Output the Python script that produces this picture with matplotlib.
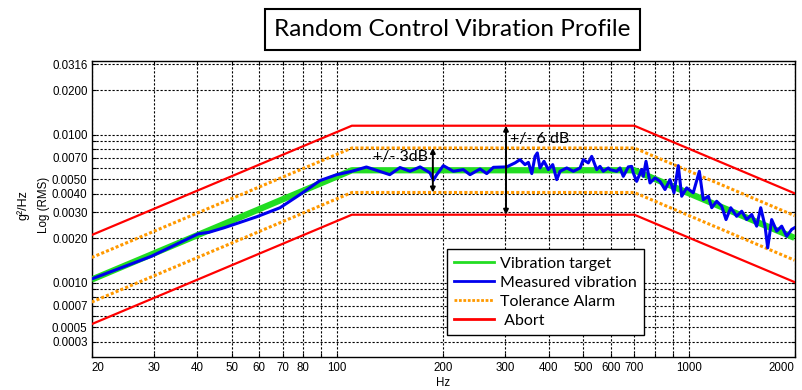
import matplotlib
matplotlib.use("Agg")
import matplotlib.pyplot as plt
from matplotlib.lines import Line2D
from matplotlib.patches import Rectangle

# ---------------- data ----------------
prof_freq = [20, 110, 700, 2000]
target = [0.00105, 0.00575, 0.00575, 0.00201]
alarm_hi = [0.00148, 0.00813, 0.00813, 0.00284]
alarm_lo = [0.00074, 0.00407, 0.00407, 0.00142]
abort_hi = [0.00210, 0.01150, 0.01150, 0.00402]
abort_lo = [0.000525, 0.00288, 0.00288, 0.00101]

meas_freq = [20, 29.6, 40.2, 43.1, 47.6, 59, 68.7, 78.3, 89.3, 99.6, 110, 121, 141,
             150.8, 161, 172, 183.6, 187.6, 191.8, 200.3, 213.9, 228.3, 238.6, 254.8,
             266.2, 278, 303.4, 320.4, 331, 342, 349.7, 357.6, 365.3, 370.8, 377.4,
             387.4, 398.6, 410.2, 421.1, 430.4, 449.6, 469.6, 490.6, 501.2, 517.8,
             529.6, 547.2, 559.2, 571.4, 590.4, 597, 623.8, 637.4, 651.4, 673, 688.2,
             695.4, 711, 734.8, 742.6, 755.8, 776, 801.8, 828.4, 856, 884.6, 908, 934,
             955, 986.8, 1030, 1072, 1100, 1137, 1163, 1201, 1241, 1277, 1317, 1369,
             1415, 1462, 1511, 1561, 1603, 1649, 1678, 1722, 1780, 1839, 1900, 1963, 2000]
meas_psd = [0.00106, 0.00151, 0.00214, 0.00219, 0.00235, 0.00279, 0.00321, 0.00394,
            0.00490, 0.00537, 0.00566, 0.00605, 0.00537,
            0.00600, 0.00566, 0.00606, 0.00552, 0.00492, 0.00537, 0.00618, 0.00566,
            0.00581, 0.00537, 0.00587, 0.00546, 0.00602, 0.00606, 0.00645, 0.00678,
            0.00628, 0.00650, 0.00546, 0.00714, 0.00753, 0.00596, 0.00661, 0.00581,
            0.00628, 0.00497, 0.00566, 0.00596, 0.00566, 0.00596, 0.00678, 0.00645,
            0.00714, 0.00581, 0.00611, 0.00566, 0.00596, 0.00581, 0.00566, 0.00596,
            0.00523, 0.00606, 0.00611, 0.00552, 0.00484, 0.00581, 0.00523, 0.00661,
            0.00472, 0.00511, 0.00484, 0.00426, 0.00497, 0.00405, 0.00618, 0.00384,
            0.00437, 0.00405, 0.00566, 0.00364, 0.00384, 0.00321, 0.00355, 0.00329,
            0.00267, 0.00321, 0.00281, 0.00304, 0.00267, 0.00289, 0.00241, 0.00321,
            0.00241, 0.00172, 0.00267, 0.00223, 0.00241, 0.00206, 0.00229, 0.00235]

x_major = [20, 30, 40, 50, 60, 70, 80, 100, 200, 300, 400, 500, 600, 700, 1000, 2000]
x_labels = ["20", "30", "40", "50", "60", "70", "80", "100", "200", "300", "400",
            "500", "600", "700", "1000", "2000"]
x_minor = [90, 800, 900]
y_major = [0.0004, 0.0005, 0.0007, 0.001, 0.002, 0.003, 0.004, 0.005, 0.007, 0.01, 0.02, 0.03]
y_labels = ["0.0003", "0.0005", "0.0007", "0.0010", "0.0020", "0.0030", "0.0040",
            "0.0050", "0.0070", "0.0100", "0.0200", "0.0316"]
y_minor = [0.0006, 0.0008, 0.0009, 0.006, 0.008, 0.009]

# ---------------- figure ----------------
W, H = 803, 390
fig = plt.figure(figsize=(W / 100, H / 100), dpi=100)
L, R, T, B = 91.7, 794.5, 60.7, 356.7
ax = fig.add_axes([L / W, 1 - B / H, (R - L) / W, (B - T) / H])
ax.set_xscale("log")
ax.set_yscale("log")
ax.set_xlim(20, 2000)
ax.set_ylim(10 ** -3.5, 10 ** -1.5)

ax.set_xticks(x_major)
ax.set_xticklabels(x_labels)
ax.set_xticks(x_minor, minor=True)
ax.set_xticklabels([], minor=True)
ax.set_yticks(y_major)
ax.set_yticklabels(y_labels)
ax.set_yticks(y_minor, minor=True)
ax.set_yticklabels([], minor=True)

tickfont = "Liberation Sans"
for lab in ax.get_xticklabels() + ax.get_yticklabels():
    lab.set_family(tickfont)
    lab.set_fontsize(8.3)
xl = ax.get_xticklabels()
xl[0].set_horizontalalignment("left")
xl[-1].set_horizontalalignment("right")
ax.tick_params(which="both", direction="in", length=3, width=0.8, pad=3,
               top=True, right=True)
ax.tick_params(axis="x", pad=4)
ax.grid(True, which="both", color="black", linestyle=(0, (2, 1.6)), linewidth=0.8)
for s in ax.spines.values():
    s.set_linewidth(1.0)
    s.set_color("black")

orange = "#FF9900"
ax.plot(prof_freq, abort_hi, color="#FF0000", lw=1.6, zorder=3)
ax.plot(prof_freq, abort_lo, color="#FF0000", lw=1.6, zorder=3)
ax.plot(prof_freq, alarm_hi, color=orange, lw=2.2, linestyle=(0, (1, 0.7)), zorder=3)
ax.plot(prof_freq, alarm_lo, color=orange, lw=2.2, linestyle=(0, (1, 0.7)), zorder=3)
ax.plot(prof_freq, target, color="#22DD22", lw=4.5, zorder=4, solid_capstyle="butt")
ax.plot(meas_freq, meas_psd, color="#0000EE", lw=2.2, zorder=5)

# dB arrows + text
annfont = "Lato"
ax.annotate("", xy=(187, alarm_lo[1]), xytext=(187, alarm_hi[1]),
            arrowprops=dict(arrowstyle="<|-|>", color="black", lw=1.4,
                            mutation_scale=7, shrinkA=0, shrinkB=0), zorder=6)
ax.annotate("", xy=(302, abort_lo[1]), xytext=(302, abort_hi[1]),
            arrowprops=dict(arrowstyle="<|-|>", color="black", lw=1.4,
                            mutation_scale=7, shrinkA=0, shrinkB=0), zorder=6)
ax.text(126, 0.0071, "+/- 3dB", family=annfont, fontsize=11.5, ha="left",
        va="center", zorder=6)
ax.text(311, 0.0093, "+/- 6 dB", family=annfont, fontsize=11.5, ha="left",
        va="center", zorder=6)

ax.set_xlabel("Hz", family=tickfont, fontsize=8.3, labelpad=2)
fig.text(23 / W, 1 - 205 / H, "g\u00b2/Hz", rotation=90, family=tickfont,
         fontsize=9, ha="center", va="center")
fig.text(44 / W, 1 - 205 / H, "Log (RMS)", rotation=90, family=tickfont,
         fontsize=8.3, ha="center", va="center")

# legend
handles = [Line2D([], [], color="#22DD22", lw=2),
           Line2D([], [], color="#0000EE", lw=2),
           Line2D([], [], color=orange, lw=2, linestyle=(0, (1, 0.6))),
           Line2D([], [], color="#FF0000", lw=2)]
labels = ["Vibration target", "Measured vibration", "Tolerance Alarm", " Abort"]
leg = ax.legend(handles, labels, loc="upper left",
                bbox_to_anchor=(446.7 / W, 1 - 249.3 / H),
                bbox_transform=fig.transFigure, borderaxespad=0,
                prop={"family": annfont, "size": 11.5}, handlelength=2.5,
                handletextpad=0.4, labelspacing=0.3, borderpad=0.45,
                fancybox=False, framealpha=1, edgecolor="black")
leg.get_frame().set_linewidth(1.0)
leg.set_zorder(10)

# title box
fig.patches.append(Rectangle((265 / W, 1 - 50 / H), (640 - 265) / W, (50 - 9.3) / H,
                             transform=fig.transFigure, facecolor="white",
                             edgecolor="black", lw=1.5))
fig.text(452.5 / W, 1 - 29.7 / H, "Random Control Vibration Profile",
         family=annfont, fontsize=17.5, ha="center", va="center")

fig.savefig("out.png", dpi=100)
